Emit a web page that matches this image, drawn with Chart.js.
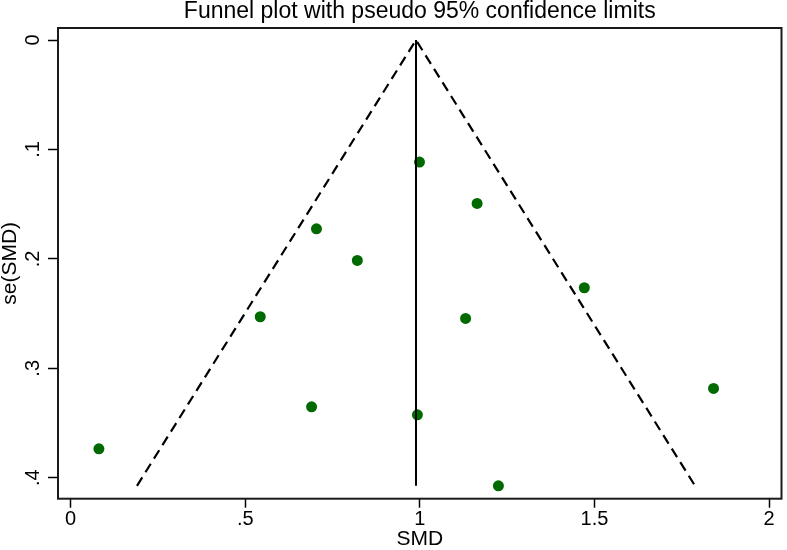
<!DOCTYPE html>
<html>
<head>
<meta charset="utf-8">
<script src="https://cdn.jsdelivr.net/npm/chart.js@4"></script>
<style>
html,body{margin:0;padding:0;background:#fff;}
#wrap{width:787px;height:550px;position:relative;}
</style>
</head>
<body>
<div id="wrap"><canvas id="c"></canvas></div>
<script>
// Study estimates (SMD) and their standard errors
const smd    = [0.999, 1.164, 0.704, 0.821, 1.471, 0.543, 1.131, 1.841, 0.690, 0.993, 0.081, 1.225];
const seSmd  = [0.1115, 0.1493, 0.1725, 0.2014, 0.2264, 0.2529, 0.2544, 0.3184, 0.3352, 0.3425, 0.3736, 0.4074];
// Pseudo 95% confidence limits (funnel) and pooled estimate line
const funnelX  = [0.190, 0.989, 1.788];
const funnelSe = [0.4074, 0, 0.4074];
const pooledX  = [0.989, 0.989];
const pooledSe = [0, 0.4074];
// Axis ticks
const xTicks = [0, 0.5, 1, 1.5, 2];
const xTickLabels = ['0', '.5', '1', '1.5', '2'];
const yTicks = [0, 0.1, 0.2, 0.3, 0.4];
const yTickLabels = ['0', '.1', '.2', '.3', '.4'];

const FONT = "'Liberation Sans', Arial, Helvetica, sans-serif";

const framePlugin = {
  id: 'frame',
  afterDraw(chart) {
    const a = chart.chartArea, ctx = chart.ctx;
    ctx.save();
    ctx.strokeStyle = '#1a1a1a';
    ctx.lineWidth = 2;
    ctx.strokeRect(a.left, a.top, a.right - a.left, a.bottom - a.top);
    ctx.restore();
  }
};

new Chart(document.getElementById('c'), {
  type: 'scatter',
  data: {
    datasets: [
      {
        type: 'line',
        data: funnelX.map((x, i) => ({x: x, y: funnelSe[i]})),
        borderColor: '#000',
        borderWidth: 2.2,
        borderDash: [10, 6],
        pointRadius: 0,
        fill: false,
        tension: 0
      },
      {
        type: 'line',
        data: pooledX.map((x, i) => ({x: x, y: pooledSe[i]})),
        borderColor: '#000',
        borderWidth: 2,
        pointRadius: 0,
        fill: false
      },
      {
        type: 'scatter',
        data: smd.map((x, i) => ({x: x, y: seSmd[i]})),
        backgroundColor: '#006a00',
        borderColor: '#006a00',
        borderWidth: 0,
        pointRadius: 5.5
      }
    ]
  },
  options: {
    responsive: true,
    maintainAspectRatio: false,
    animation: false,
    devicePixelRatio: 1,
    layout: {padding: {left: 0, right: 1, top: 0, bottom: 0}},
    plugins: {
      legend: {display: false},
      tooltip: {enabled: false},
      title: {
        display: true,
        text: 'Funnel plot with pseudo 95% confidence limits',
        color: '#000',
        fullSize: false,
        font: {family: FONT, size: 23, weight: 'normal', lineHeight: 0.87},
        padding: {top: 2, bottom: 6}
      }
    },
    scales: {
      x: {
        type: 'linear',
        position: 'bottom',
        min: -0.0361,
        max: 2.0356,
        afterBuildTicks: s => { s.ticks = xTicks.map(v => ({value: v})); },
        afterFit: s => { s.height = 51.3; },
        ticks: {
          color: '#000',
          font: {family: FONT, size: 20},
          padding: 0,
          maxRotation: 0,
          minRotation: 0,
          autoSkip: false,
          callback: (v) => { const i = xTicks.indexOf(v); return i >= 0 ? xTickLabels[i] : ''; }
        },
        grid: {drawOnChartArea: false, drawTicks: true, tickLength: 9, tickColor: '#000', tickWidth: 1.5},
        border: {display: false},
        title: {
          display: true,
          text: 'SMD',
          color: '#000',
          font: {family: FONT, size: 21, lineHeight: 1},
          padding: {top: 0, bottom: 0}
        }
      },
      y: {
        type: 'linear',
        position: 'left',
        reverse: true,
        min: -0.01097,
        max: 0.41917,
        afterBuildTicks: s => { s.ticks = yTicks.map(v => ({value: v})); },
        afterFit: s => { s.width = 58; },
        ticks: {
          color: '#000',
          font: {family: FONT, size: 20},
          padding: 6,
          minRotation: 90,
          maxRotation: 90,
          crossAlign: 'center',
          autoSkip: false,
          callback: (v) => { const i = yTicks.indexOf(v); return i >= 0 ? yTickLabels[i] : ''; }
        },
        grid: {drawOnChartArea: false, drawTicks: true, tickLength: 10, tickColor: '#000', tickWidth: 1.5},
        border: {display: false},
        title: {
          display: true,
          text: 'se(SMD)',
          color: '#000',
          font: {family: FONT, size: 21, lineHeight: 1},
          padding: {top: 0, bottom: 0}
        }
      }
    }
  },
  plugins: [framePlugin]
});
</script>
</body>
</html>
